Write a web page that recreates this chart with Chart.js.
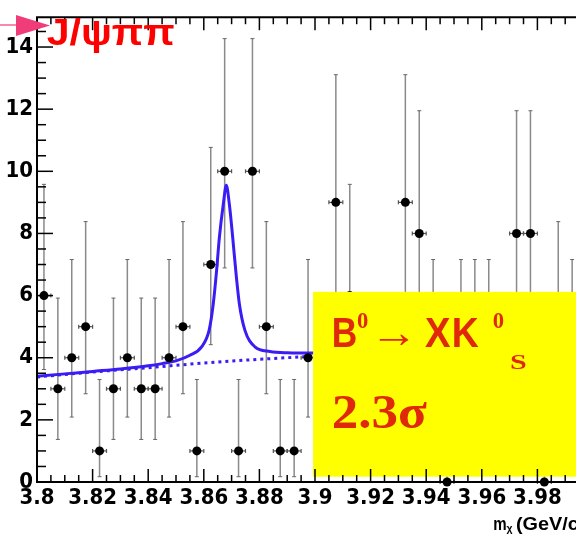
<!DOCTYPE html>
<html><head><meta charset="utf-8">
<script src="https://cdn.jsdelivr.net/npm/chart.js@4.4.0/dist/chart.umd.min.js"></script>
<style>html,body{margin:0;padding:0;overflow:hidden;background:#fff;width:576px;height:534px}canvas{display:block}</style>
</head><body>
<canvas id="c" width="640" height="534"></canvas>
<script>
// ---- data ----
const binCenters = [3.8025,3.8075,3.8125,3.8175,3.8225,3.8275,3.8325,3.8375,3.8425,3.8475,
  3.8525,3.8575,3.8625,3.8675,3.8725,3.8775,3.8825,3.8875,3.8925,3.8975,
  3.9025,3.9075,3.9125,3.9175,3.9225,3.9275,3.9325,3.9375,3.9425,3.9475,
  3.9525,3.9575,3.9625,3.9675,3.9725,3.9775,3.9825,3.9875,3.9925];
const counts = [6,3,4,5,1,3,4,3,3,4, 5,1,7,10,1,10,5,1,1,4, 3,9,6,2,3,2,9,8,4,0, 4,4,4,3,8,8,0,5,4];
const errLow = [3.62,1.37,2.09,2.84,0.17,1.37,2.09,1.37,1.37,2.09,
  2.84,0.17,4.42,6.89,0.17,6.89,2.84,0.17,0.17,2.09,
  1.37,6.06,3.62,0.71,1.37,0.71,6.06,5.23,2.09,0,
  2.09,2.09,2.09,1.37,5.23,5.23,0,2.84,2.09];
const errHigh = [9.58,5.92,7.16,8.38,3.30,5.92,7.16,5.92,5.92,7.16,
  8.38,3.30,10.77,14.27,3.30,14.27,8.38,3.30,3.30,7.16,
  5.92,13.11,9.58,4.64,5.92,4.64,13.11,11.95,7.16,1.84,
  7.16,7.16,7.16,5.92,11.95,11.95,1.84,8.38,7.16];
const binHalfWidth = 0.0025;
const fitX = [3.800,3.810,3.820,3.830,3.840,3.845,3.850,3.855,3.8592,3.8619,3.8634,3.8646,3.8656,3.8670,3.8681,
  3.8692,3.8704,3.8715,3.8728,3.8748,3.8784,3.8838,3.890,3.900,3.910];
const fitY = [3.40,3.48,3.56,3.64,3.74,3.81,3.90,4.08,4.35,4.88,5.73,6.80,7.87,8.93,9.55,
  8.93,7.87,6.80,5.73,4.88,4.35,4.20,4.16,4.15,4.18];
const bkgX = [3.800,3.820,3.840,3.860,3.880,3.900,3.910];
const bkgY = [3.38,3.54,3.68,3.83,3.95,4.05,4.10];
const xMin = 3.8, xMax = 4.0, xStep = 0.02, xMinor = 0.005;
const yMin = 0, yMax = 14.96, yStep = 2, yMinor = 0.5;
const titleText = 'J/\u03C8\u03C0\u03C0';
const sigText = '2.3\u03C3';

// ---- styles ----
const BLUE = '#3a1cf4';
const RED = '#ff0000';
const ORANGE = '#e0280a';
const NARROW = "'Liberation Sans Narrow','DejaVu Sans Condensed','Liberation Sans',sans-serif";

function line(ctx, x1, y1, x2, y2) { ctx.beginPath(); ctx.moveTo(x1, y1); ctx.lineTo(x2, y2); ctx.stroke(); }
function fitText(ctx, text, font, color, x, base, width) {
  ctx.save(); ctx.font = font; ctx.textAlign = 'left'; ctx.textBaseline = 'alphabetic';
  const w = ctx.measureText(text).width;
  ctx.translate(x, base); if (width) ctx.scale(width / w, 1);
  ctx.fillStyle = color; ctx.fillText(text, 0, 0); ctx.restore();
}

const errorBars = {
  id: 'errorBars',
  beforeDatasetsDraw(chart) {
    const ctx = chart.ctx, xs = chart.scales.x, ys = chart.scales.y;
    ctx.save();
    for (let i = 0; i < binCenters.length; i++) {
      const px = xs.getPixelForValue(binCenters[i]);
      const lo = ys.getPixelForValue(errLow[i]), hi = ys.getPixelForValue(errHigh[i]);
      const py = ys.getPixelForValue(counts[i]);
      ctx.strokeStyle = '#8a8a8a'; ctx.lineWidth = 1.5;
      line(ctx, px, lo, px, hi);
      ctx.strokeStyle = '#666'; ctx.lineWidth = 1;
      line(ctx, px - 2, lo, px + 2, lo); line(ctx, px - 2, hi, px + 2, hi);
      const x1 = xs.getPixelForValue(binCenters[i] - binHalfWidth), x2 = xs.getPixelForValue(binCenters[i] + binHalfWidth);
      ctx.strokeStyle = '#555'; ctx.lineWidth = 1.2;
      line(ctx, x1, py, x2, py);
      line(ctx, x1, py - 2, x1, py + 2); line(ctx, x2, py - 2, x2, py + 2);
    }
    ctx.restore();
  },
  afterDatasetsDraw(chart) {
    const ctx = chart.ctx, xs = chart.scales.x, ys = chart.scales.y, a = chart.chartArea;
    ctx.save();
    // yellow label box
    const bx = xs.getPixelForValue(3.8993), by = ys.getPixelForValue(6.12), bb = ys.getPixelForValue(0.17);
    ctx.fillStyle = '#ffff00';
    ctx.fillRect(bx, by, chart.width - bx, bb - by);
    // frame
    ctx.strokeStyle = '#000'; ctx.lineWidth = 2;
    line(ctx, a.left, a.top, a.left, a.bottom);
    line(ctx, a.left - 1, a.top, a.right, a.top);
    line(ctx, a.left - 1, a.bottom, a.right, a.bottom);
    // inward ticks
    ctx.lineWidth = 1.5;
    const nx = Math.round((xMax - xMin) / xMinor);
    for (let i = 0; i <= nx; i++) {
      const px = xs.getPixelForValue(xMin + i * xMinor);
      const L = (i % 4 === 0) ? 13 : 7;
      line(ctx, px, a.bottom, px, a.bottom - L);
      line(ctx, px, a.top, px, a.top + L);
    }
    const ny = Math.floor((yMax - yMin) / yMinor);
    for (let i = 0; i <= ny; i++) {
      const py = ys.getPixelForValue(yMin + i * yMinor);
      const L = (i % 4 === 0) ? 16 : 9;
      line(ctx, a.left, py, a.left + L, py);
    }
    // box texts
    const sans = "bold 43px 'Liberation Sans',Arial,sans-serif";
    const serif = (s) => "bold " + s + "px 'Liberation Serif','DejaVu Serif',serif";
    fitText(ctx, 'B', sans, ORANGE, 331.7, 346.7, 25.5);
    fitText(ctx, '0', serif(24), ORANGE, 357, 328, 11.3);
    fitText(ctx, '\u2192', sans, ORANGE, 370, 346.7, 48);
    fitText(ctx, 'X', sans, ORANGE, 425, 346.7, 25.5);
    fitText(ctx, 'K', sans, ORANGE, 451.7, 346.7, 27);
    fitText(ctx, '0', serif(24), ORANGE, 492.7, 328, 11.3);
    fitText(ctx, 'S', serif(22), ORANGE, 510, 369.3, 16.7);
    fitText(ctx, sigText, serif(49), ORANGE, 331.7, 428.3, 95);
    // title and arrow
    fitText(ctx, titleText, "bold 37px 'Liberation Sans',Arial,sans-serif", RED, 46.7, 44.5, 128);
    ctx.strokeStyle = '#f03c78'; ctx.lineWidth = 1.2;
    line(ctx, 0, 25, 18, 25);
    ctx.fillStyle = '#f03c78';
    ctx.beginPath(); ctx.moveTo(16, 15); ctx.lineTo(50, 25.5); ctx.lineTo(16, 36); ctx.closePath(); ctx.fill();
    // x-axis title
    const tf = "bold 18px 'Liberation Sans',Arial,sans-serif";
    fitText(ctx, 'm', tf, '#000', 493.3, 530, 13.4);
    fitText(ctx, '\u03C7', "bold 11px 'Liberation Sans',Arial,sans-serif", '#000', 506.5, 531.5, 6);
    fitText(ctx, '(GeV/c\u00B2)', tf, '#000', 516, 530, 76);
    ctx.restore();
  }
};

const ctx = document.getElementById('c').getContext('2d');
new Chart(ctx, {
  type: 'scatter',
  data: {
    datasets: [
      { data: binCenters.map((x, i) => ({ x, y: counts[i] })), pointRadius: 4.5, pointBackgroundColor: '#000',
        pointBorderWidth: 0, showLine: false, clip: false, order: 0 },
      { data: fitX.map((x, i) => ({ x, y: fitY[i] })), showLine: true, borderColor: BLUE, borderWidth: 3,
        pointRadius: 0, cubicInterpolationMode: 'monotone', order: 1 },
      { data: bkgX.map((x, i) => ({ x, y: bkgY[i] })), showLine: true, borderColor: BLUE, borderWidth: 3,
        borderDash: [3, 4], pointRadius: 0, cubicInterpolationMode: 'monotone', order: 2 }
    ]
  },
  options: {
    responsive: false, animation: false, devicePixelRatio: 1,
    layout: { padding: { top: 15, right: 47, left: 0, bottom: 0 } },
    plugins: { legend: { display: false }, tooltip: { enabled: false } },
    events: [],
    scales: {
      x: {
        type: 'linear', min: xMin, max: xMax,
        grid: { display: false, drawTicks: false }, border: { display: false },
        afterFit: (s) => { s.height = 52; },
        ticks: { stepSize: xStep, autoSkip: false, maxRotation: 0, padding: 3, color: '#000',
          font: { family: NARROW, weight: 'bold', size: 22 },
          callback: (v) => parseFloat((+v).toFixed(2)).toString() }
      },
      y: {
        min: yMin, max: yMax,
        grid: { display: false, drawTicks: false }, border: { display: false },
        afterFit: (s) => { s.width = 37; },
        ticks: { stepSize: yStep, includeBounds: false, padding: 4, color: '#000',
          font: { family: NARROW, weight: 'bold', size: 22 } }
      }
    }
  },
  plugins: [errorBars]
});
</script>
</body></html>
